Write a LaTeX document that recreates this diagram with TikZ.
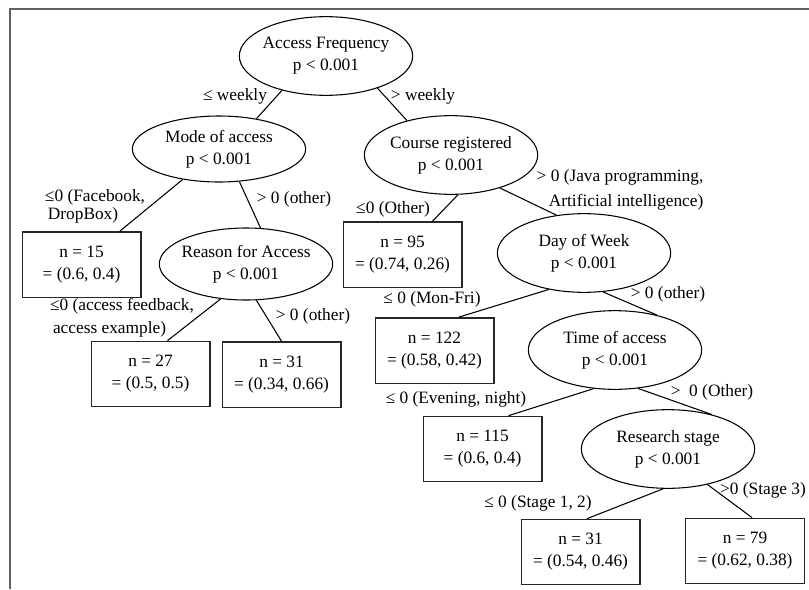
\documentclass[tikz,border=0pt]{standalone}
\usepackage{fontspec}
\setmainfont{Liberation Serif}
\usetikzlibrary{shapes.geometric}
\begin{document}
\begin{tikzpicture}[
    x=0.75pt, y=-0.75pt,
    every node/.style={font=\fontsize{13}{16.5}\selectfont},
    split/.style={ellipse, draw, line width=0.8pt, inner xsep=-8pt, inner ysep=0pt,
        minimum width=130pt, minimum height=59pt, align=center},
    leaf/.style={rectangle, draw=black!85, line width=1pt,
        minimum width=89pt, minimum height=49pt, align=center},
    cond/.style={inner sep=0pt, align=left, font=\fontsize{13}{13.5}\selectfont},
    branch/.style={line width=0.8pt}
]
\useasboundingbox (0,0) rectangle (809,589);
\draw[black!62, line width=1.5pt] (9.5,589) -- (9.5,8.5) -- (809,8.5);

% split nodes
\node[split] (freq) at (326,56) {Access Frequency\\p < 0.001};
\node[split, minimum height=49.5pt] (mode) at (219,149) {Mode of access\\p < 0.001};
\node[split] (course) at (451,155) {Course registered\\p < 0.001};
\node[split, minimum height=54pt] (reason) at (246,264) {Reason for Access\\p < 0.001};
\node[split] (day) at (584,253) {Day of Week\\p < 0.001};
\node[split] (time) at (615,350) {Time of access\\p < 0.001};
\node[split] (stage) at (668,449) {Research stage\\p < 0.001};

% leaves
\node[leaf] (l15) at (81.5,264.5) {n = 15\\= (0.6, 0.4)};
\node[leaf] (l95) at (402.5,254.5) {n = 95\\= (0.74, 0.26)};
\node[leaf] (l27) at (150.5,374) {n = 27\\= (0.5, 0.5)};
\node[leaf] (l31a) at (281.5,374.5) {n = 31\\= (0.34, 0.66)};
\node[leaf] (l122) at (434.5,350.5) {n = 122\\= (0.58, 0.42)};
\node[leaf] (l115) at (482.5,449) {n = 115\\= (0.6, 0.4)};
\node[leaf] (l31b) at (580.5,552) {n = 31\\= (0.54, 0.46)};
\node[leaf] (l79) at (745,551) {n = 79\\= (0.62, 0.38)};

% branches
\draw[branch] (freq.218) -- (mode.39);
\draw[branch] (freq.328) -- (course.142);
\draw[branch] (mode.220) -- (l15.41);
\draw[branch] (mode.302) -- (reason.68);
\draw[branch] (course.280) -- (l95.48);
\draw[branch] (course.326) -- (day.126);
\draw[branch] (reason.234) -- (l27.63);
\draw[branch] (reason.286) -- (l31a.north);
\draw[branch] (day.226) -- (l122.54);
\draw[branch] (day.296) -- (time.40);
\draw[branch] (time.241) -- (l115.52);
\draw[branch] (time.301) -- (stage.38);
\draw[branch] (stage.263) -- (l31b.79);
\draw[branch] (stage.318) -- (l79.78);

% branch conditions
\node[cond] (cweek1) at (235,96) {≤ weekly};
\node[cond] (cweek2) at (423,96) {> weekly};
\node[cond] (cface) at (95,206) {≤0 (Facebook,\\\,DropBox)};
\node[cond] (cmode) at (294,199) {> 0 (other)};
\node[cond] (cother) at (393,209) {≤0 (Other)};
\node[cond, align=right, font=\fontsize{13}{19}\selectfont] (cjava) at (620,190) {> 0 (Java programming,\\Artificial intelligence)};
\node[cond, font=\fontsize{13}{17}\selectfont] (cfeed) at (122,318) {≤0 (access feedback,\\\,access example)};
\node[cond] (creason) at (313,316) {> 0 (other)};
\node[cond] (cmon) at (432,299) {≤ 0 (Mon-Fri)};
\node[cond] (cday) at (668,294) {> 0 (other)};
\node[cond] (ceve) at (456,399) {≤ 0 (Evening, night)};
\node[cond] (ctime) at (712,392) {>\ \ 0 (Other)};
\node[cond] (cstage1) at (538,503) {≤ 0 (Stage 1, 2)};
\node[cond] (cstage3) at (763,490) {>0 (Stage 3)};
\end{tikzpicture}
\end{document}
